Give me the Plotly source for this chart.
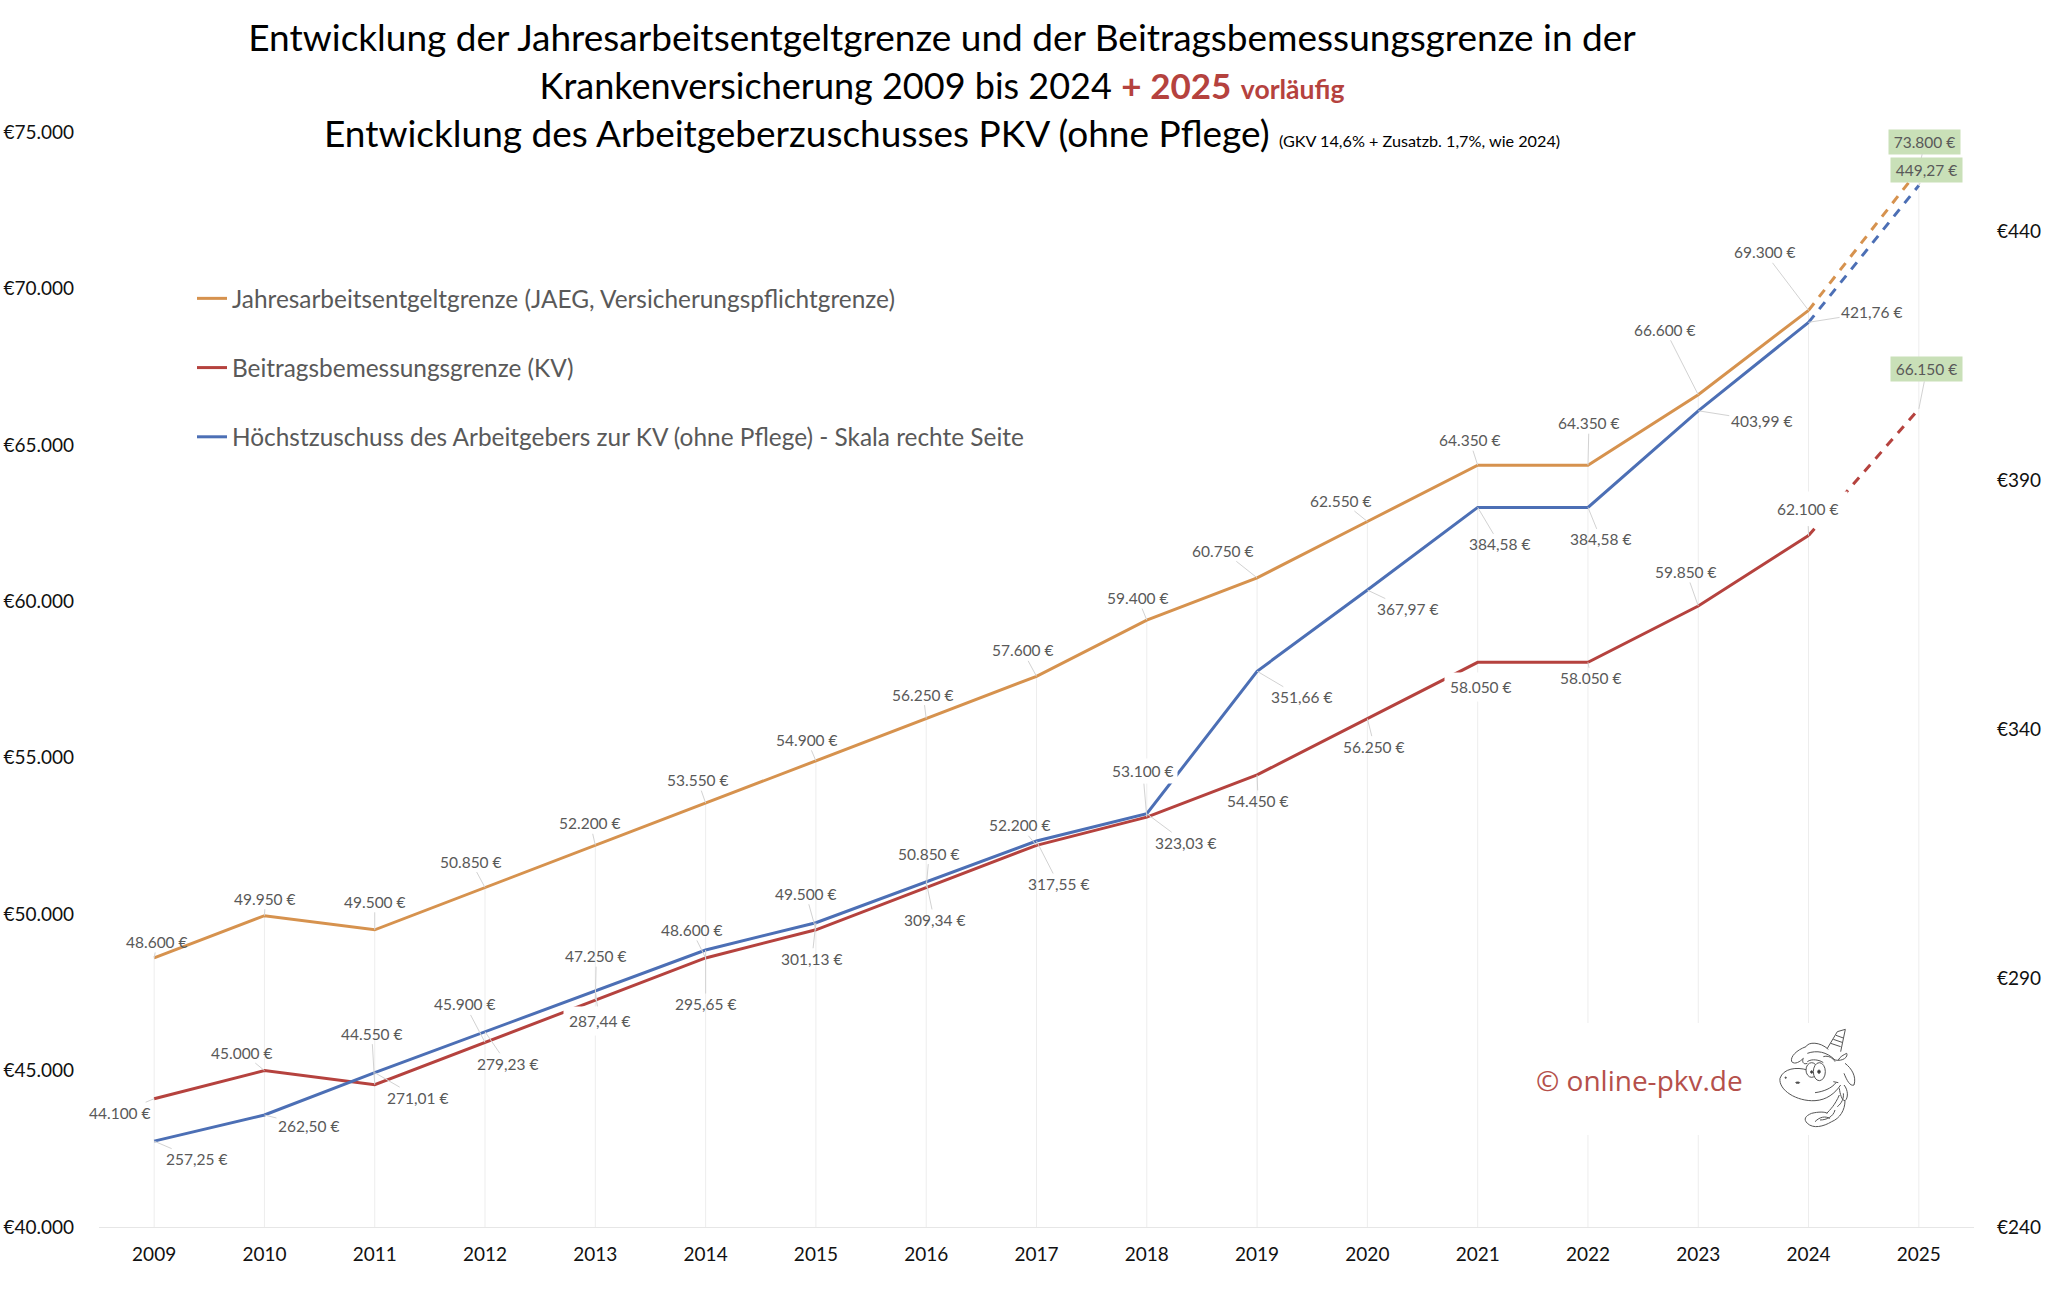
import re
import plotly.graph_objects as go

years = list(range(2009, 2026))
jaeg = [48600, 49950, 49500, 50850, 52200, 53550, 54900, 56250, 57600, 59400, 60750, 62550, 64350, 64350, 66600, 69300, 73800]
bbg = [44100, 45000, 44550, 45900, 47250, 48600, 49500, 50850, 52200, 53100, 54450, 56250, 58050, 58050, 59850, 62100, 66150]
zuschuss = [257.25, 262.50, 271.01, 279.23, 287.44, 295.65, 301.13, 309.34, 317.55, 323.03, 351.66, 367.97, 384.58, 384.58, 403.99, 421.76, 449.27]

left_ticks = [40000, 45000, 50000, 55000, 60000, 65000, 70000, 75000]
left_labels = ["€40.000", "€45.000", "€50.000", "€55.000", "€60.000", "€65.000", "€70.000", "€75.000"]
right_ticks = [240, 290, 340, 390, 440]
right_labels = ["€240", "€290", "€340", "€390", "€440"]

name_jaeg = "Jahresarbeitsentgeltgrenze (JAEG, Versicherungspflichtgrenze)"
name_bbg = "Beitragsbemessungsgrenze (KV)"
name_zuschuss = "Höchstzuschuss des Arbeitgebers zur KV (ohne Pflege) - Skala rechte Seite"

# label offsets from the data point, in pixels
off_jaeg = [(3,-16),(1,-17),(0,-28),(-14,-26),(-5,-22),(-8,-23),(-9,-21),(-3,-24),(-14,-26),(-9,-22),(-34,-27),(-26,-21),(-8,-25),(1,-42),(-33,-65),(-44,-58),(6,-28)]
off_bbg = [(-34,14),(-22,-18),(-3,-51),(-20,-38),(1,-44),(-14,-28),(-10,-36),(3,-34),(-17,-20),(-4,-46),(1,26),(7,28),(3,25),(3,16),(-12,-34),(-1,-27),(8,-40)]
off_zuschuss = [(42,18),(44,11),(43,25),(22,32),(4,30),(0,54),(-4,36),(8,38),(22,43),(39,29),(44,26),(40,19),(22,37),(13,32),(63,10),(63,-10),(8,-15)]

ORANGE = "#D6924E"
RED = "#B5423E"
BLUE = "#4C6FB5"
GREY = "#595959"
FONT = "Lato"

# plot area on the page, pixels
L, R, T, B = 99, 1974, 132, 1227


def px(x):
  return (x - L) / (R - L)


def py(y):
  return (B - y) / (B - T)


def uni_xy(x, y):
  return px(1720 + x / 3), py(1010 + y / 3)


def uni_path(d):
  def conv(m):
    x, y = uni_xy(float(m.group(1)), float(m.group(2)))
    return f"{x:.5f},{y:.5f}"
  return re.sub(r"(\d+),(\d+)", conv, d)


def de_num(v):
  return f"{v:,.0f} €".replace(",", ".")


def de_dec(v):
  return f"{v:.2f} €".replace(".", ",")


fig = go.Figure()

# drop lines from the top series down to the axis
fig.add_trace(go.Scatter(
  x=years, y=jaeg, mode="lines", line=dict(width=0, color="rgba(0,0,0,0)"),
  showlegend=False, hoverinfo="skip",
  error_y=dict(type="data", symmetric=False, array=[0] * len(jaeg),
               arrayminus=[v - left_ticks[0] for v in jaeg],
               color="#EDEDED", thickness=1, width=0)
))

for name, values, color, axis in [
  (name_jaeg, jaeg, ORANGE, "y"),
  (name_bbg, bbg, RED, "y"),
  (name_zuschuss, zuschuss, BLUE, "y2"),
]:
  fig.add_trace(go.Scatter(
    x=years[:-1], y=values[:-1], mode="lines", name=name, yaxis=axis,
    line=dict(color=color, width=3), legendgroup=name
  ))
  fig.add_trace(go.Scatter(
    x=years[-2:], y=values[-2:], mode="lines", yaxis=axis, showlegend=False,
    line=dict(color=color, width=3, dash="9px,8px"), legendgroup=name
  ))

annotations = []


def add_labels(values, offsets, fmt, yref, white=None):
  white = white or {}
  for i, (year, v) in enumerate(zip(years, values)):
    a = dict(
      x=year, y=v, xref="x", yref=yref, text=fmt(v), showarrow=True,
      ax=offsets[i][0], ay=offsets[i][1], arrowhead=0, arrowwidth=1,
      arrowcolor="#D2D2D2", font=dict(family=FONT, size=15.5, color=GREY)
    )
    if year == 2025:
      a.update(bgcolor="#C9E0B8", width=67, height=20, borderpad=2)
    elif year in white:
      a.update(bgcolor="white", borderpad=white[year])
    annotations.append(a)


add_labels(jaeg, off_jaeg, de_num, "y")
add_labels(bbg, off_bbg, de_num, "y", white={2018: 3, 2021: 5, 2024: 8})
add_labels(zuschuss, off_zuschuss, de_dec, "y2", white={2013: 5})

annotations.append(dict(
  x=px(1639), y=py(1080), xref="paper", yref="paper", showarrow=False,
  xanchor="center", yanchor="middle",
  text="© online-pkv.de", font=dict(family="Open Sans", size=28, color="#B5504B")
))

shapes = [dict(
  type="rect", xref="paper", yref="paper", x0=px(1530), x1=px(1870), y0=py(1135), y1=py(1023),
  fillcolor="white", line=dict(width=0), layer="above"
)]

unicorn = [
  "M322,115 L352,65 L376,58 L362,125",
  "M332,100 L362,110 M340,88 L366,97 M348,76 L370,84",
  "M325,118 C300,95 265,95 258,110 C230,120 210,140 215,155 C225,165 240,155 250,145 C245,155 250,165 262,160",
  "M262,130 C290,120 320,125 345,150",
  "M262,180 C230,170 190,175 180,205 C175,240 230,275 285,272 C320,270 345,250 362,225",
  "M262,155 C275,145 300,150 310,158 M310,140 C325,135 340,145 345,155",
  "M285,248 C310,245 335,235 348,218 M340,215 L355,218",
  "M345,150 C370,155 385,140 380,130 C370,135 360,140 355,150",
  "M375,160 C395,175 410,200 402,225 C390,230 380,210 372,190",
  "M372,225 C385,240 385,265 375,272 C365,272 360,250 358,235",
  "M358,255 C345,285 330,300 320,310",
  "M375,272 C375,300 360,325 335,335 C310,350 280,357 262,340 C250,328 255,318 275,310 C295,305 315,305 322,310",
  "M300,330 C320,330 340,320 345,300",
  "M285,335 C300,320 315,318 330,325 M352,290 C365,280 372,265 370,250",
]
for d in unicorn:
  shapes.append(dict(type="path", xref="paper", yref="paper", path=uni_path(d),
                     line=dict(color="#555555", width=1), layer="above"))

for cx, cy, rx, ry, fill in [
  (275, 180, 17, 22, "white"), (298, 185, 18, 27, "white"),
  (275, 186, 3, 4, "#333333"), (297, 185, 4, 5, "#333333"),
  (197, 203, 2, 2, "#333333"), (233, 218, 6, 2, "#333333"),
]:
  x0, y0 = uni_xy(cx - rx, cy + ry)
  x1, y1 = uni_xy(cx + rx, cy - ry)
  shapes.append(dict(type="circle", xref="paper", yref="paper", x0=x0, x1=x1, y0=y0, y1=y1,
                     fillcolor=fill, line=dict(color="#555555", width=1), layer="above"))

title = (
  "Entwicklung der Jahresarbeitsentgeltgrenze und der Beitragsbemessungsgrenze in der<br>"
  '<span style="font-size:36px">Krankenversicherung 2009 bis 2024</span> '
  f'<b><span style="color:{RED};font-size:35px">+ 2025</span></b> '
  f'<b><span style="color:{RED};font-size:26.5px">vorläufig</span></b><br>'
  'Entwicklung des Arbeitgeberzuschusses PKV (ohne Pflege) '
  '<span style="font-size:16.2px">(GKV 14,6% + Zusatzb. 1,7%, wie 2024)</span>'
)

fig.update_layout(
  width=2048, height=1297,
  margin=dict(l=L, r=2048 - R, t=T, b=1297 - B, pad=0),
  paper_bgcolor="white", plot_bgcolor="white",
  font=dict(family=FONT, color="black"),
  title=dict(text=title, x=942 / 2048, xref="container", xanchor="center",
             y=1 - 51 / 1297, yanchor="top", font=dict(family=FONT, size=37, color="black")),
  xaxis=dict(range=[2008.5, 2025.5], tickvals=years, showgrid=False, zeroline=False, automargin=False,
             showline=True, linecolor="#E6E6E6", linewidth=1, ticks="",
             ticklabelstandoff=10, tickfont=dict(family=FONT, size=19, color="#111111")),
  yaxis=dict(range=[40000, 75000], tickvals=left_ticks, ticktext=left_labels, showgrid=False, automargin=False,
             zeroline=False, showline=False, ticks="", ticklabelstandoff=24,
             tickfont=dict(family=FONT, size=19, color="#111111")),
  yaxis2=dict(range=[240, 460], tickvals=right_ticks, ticktext=right_labels, overlaying="y", automargin=False,
              side="right", showgrid=False, zeroline=False, showline=False, ticks="",
              ticklabelstandoff=22, tickfont=dict(family=FONT, size=19, color="#111111")),
  legend=dict(x=px(192), y=py(276), xanchor="left", yanchor="top", tracegroupgap=34.5,
              bgcolor="rgba(0,0,0,0)", font=dict(family=FONT, size=24.4, color=GREY)),
  annotations=annotations,
  shapes=shapes,
  hovermode=False,
)

fig.write_html("out.html", post_script="document.body.style.margin='0';", config=dict(displayModeBar=False))
